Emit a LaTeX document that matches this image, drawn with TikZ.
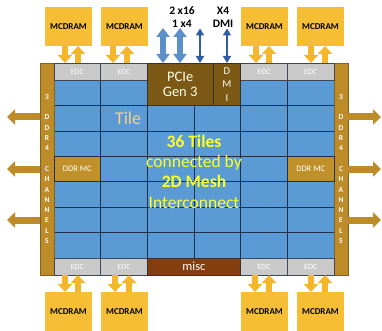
\documentclass[tikz,border=0pt]{standalone}
\usepackage{fontspec}
\setmainfont{Carlito}
\usetikzlibrary{arrows.meta}
\definecolor{mcd}{HTML}{F6BE34}
\definecolor{mcarr}{HTML}{F3B62C}
\definecolor{strip}{HTML}{BD8C28}
\definecolor{ddrmc}{HTML}{C0902A}
\definecolor{pcie}{HTML}{7D5916}
\definecolor{miscc}{HTML}{843D0F}
\definecolor{edc}{HTML}{C9C9C9}
\definecolor{tile}{HTML}{5B9BD5}
\definecolor{gridl}{HTML}{1F3048}
\definecolor{pblue}{HTML}{5B90C8}
\definecolor{dblue}{HTML}{2F5CA6}
\definecolor{tiletxt}{HTML}{F5D37F}
\definecolor{meshtxt}{HTML}{FFFF26}
\begin{document}
\begin{tikzpicture}[x=1pt,y=-1pt,
  box/.style={anchor=north west, inner sep=0pt, outer sep=0pt, align=center},
  edcbox/.style={box, fill=edc, draw=gridl!70!gray, line width=0.6pt, text=white,
     font=\fontsize{8}{9}\selectfont, minimum width=46.67pt, minimum height=17pt},
  mcbox/.style={box, fill=mcd, minimum width=47pt, minimum height=39pt,
     font=\bfseries\fontsize{9}{10}\selectfont},
  ddrbox/.style={box, fill=ddrmc, draw=gridl, line width=0.7pt, text=white,
     font=\fontsize{8.5}{10}\selectfont, minimum width=46.67pt, minimum height=25.43pt},
  stripbox/.style={box, fill=strip, draw=strip!70!black, line width=0.5pt, text=white,
     font=\bfseries\fontsize{7.5}{10.3}\selectfont, minimum width=14pt, minimum height=212pt},
  mcarrow/.style={draw=mcarr, line width=6pt, -{Triangle[length=8pt,width=14pt]}},
  ddrarrow/.style={draw=strip, line width=7pt, -{Triangle[length=8pt,width=15pt]}},
  pciearrow/.style={draw=pblue, line width=6pt, {Triangle[length=9pt,width=13pt]}-{Triangle[length=9pt,width=13pt]}},
  dmiarrow/.style={draw=dblue, line width=1.8pt, {Triangle[length=7pt,width=8pt]}-{Triangle[length=7pt,width=8pt]}},
  lbl/.style={font=\bfseries\fontsize{11.5}{12}\selectfont, inner sep=0pt}
]
\useasboundingbox (0,0) rectangle (382,331);

% tile grid
\fill[tile] (54,80) rectangle (334,258);
\foreach \x in {100.67,147.33,194,240.67,287.33}
  \draw[gridl, line width=0.7pt] (\x,80) -- (\x,258);
\foreach \y in {105.43,130.86,156.29,181.71,207.14,232.57}
  \draw[gridl, line width=0.7pt] (54,\y) -- (334,\y);
\draw[gridl, line width=0.7pt] (54,80) rectangle (334,258);

% side strips
\node[stripbox] (ls) at (40,63) {3\\~\\D\\D\\R\\4\\~\\C\\H\\A\\N\\N\\E\\L\\S};
\node[stripbox] (rs) at (334,63) {3\\~\\D\\D\\R\\4\\~\\C\\H\\A\\N\\N\\E\\L\\S};

% EDC row top
\node[edcbox] (et1) at (54,63) {EDC};
\node[edcbox] (et2) at (100.67,63) {EDC};
\node[edcbox] (et3) at (240.67,63) {EDC};
\node[edcbox] (et4) at (287.33,63) {EDC};
% EDC row bottom
\node[edcbox] (eb1) at (54,258) {EDC};
\node[edcbox] (eb2) at (100.67,258) {EDC};
\node[edcbox] (eb3) at (240.67,258) {EDC};
\node[edcbox] (eb4) at (287.33,258) {EDC};

% PCIe, DMI, misc
\node[box, fill=pcie, draw=black!80, line width=0.7pt, text=white!92!yellow,
  minimum width=65.67pt, minimum height=42.43pt, font=\fontsize{14.5}{15}\selectfont]
  (pcie) at (147.33,63) {PCIe\\Gen 3};
\node[box, fill=pcie, draw=black!80, line width=0.7pt, text=white!92!yellow,
  minimum width=27.67pt, minimum height=42.43pt, font=\fontsize{10.5}{13.5}\selectfont]
  (dmi) at (213,63) {D\\M\\I};
\node[box, fill=miscc, draw=black!80, line width=0.7pt, text=white,
  minimum width=93.33pt, minimum height=17pt, font=\fontsize{12.5}{13}\selectfont]
  (misc) at (147.33,258) {misc};

% DDR MC
\node[ddrbox] (mcl) at (54,156.29) {DDR MC};
\node[ddrbox] (mcr) at (287.33,156.29) {DDR MC};

% MCDRAM
\node[mcbox] (mt1) at (45,7) {MCDRAM};
\node[mcbox] (mt2) at (101,7) {MCDRAM};
\node[mcbox] (mt3) at (241,7) {MCDRAM};
\node[mcbox] (mt4) at (297,7) {MCDRAM};
\node[mcbox] (mb1) at (45,292) {MCDRAM};
\node[mcbox] (mb2) at (101,292) {MCDRAM};
\node[mcbox] (mb3) at (241,292) {MCDRAM};
\node[mcbox] (mb4) at (297,292) {MCDRAM};

% arrow x positions
\foreach \n/\v in {a/65,b/78,c/113,d/127,e/256,f/269,g/311,h/325,i/115,j/129,k/255}
  \coordinate (x\n) at (\v,0);

% MCDRAM <-> EDC arrows (top)
\draw[mcarrow] (mt1.south -| xa) -- (et1.north -| xa);
\draw[mcarrow] (et1.north -| xb) -- (mt1.south -| xb);
\draw[mcarrow] (mt2.south -| xc) -- (et2.north -| xc);
\draw[mcarrow] (et2.north -| xd) -- (mt2.south -| xd);
\draw[mcarrow] (mt3.south -| xe) -- (et3.north -| xe);
\draw[mcarrow] (et3.north -| xf) -- (mt3.south -| xf);
\draw[mcarrow] (mt4.south -| xg) -- (et4.north -| xg);
\draw[mcarrow] (et4.north -| xh) -- (mt4.south -| xh);
% bottom
\draw[mcarrow] (eb1.south -| xa) -- (mb1.north -| xa);
\draw[mcarrow] (mb1.north -| xb) -- (eb1.south -| xb);
\draw[mcarrow] (eb2.south -| xi) -- (mb2.north -| xi);
\draw[mcarrow] (mb2.north -| xj) -- (eb2.south -| xj);
\draw[mcarrow] (eb3.south -| xk) -- (mb3.north -| xk);
\draw[mcarrow] (mb3.north -| xf) -- (eb3.south -| xf);
\draw[mcarrow] (eb4.south -| xg) -- (mb4.north -| xg);
\draw[mcarrow] (mb4.north -| xh) -- (eb4.south -| xh);

% DDR channel arrows
\coordinate (la1) at (7,117);
\coordinate (la2) at (7,169);
\coordinate (la3) at (7,220);
\coordinate (ra1) at (381,117);
\coordinate (ra2) at (381,169);
\coordinate (ra3) at (381,220);
\draw[ddrarrow] (ls.west |- la1) -- (la1);
\draw[ddrarrow] (ls.west |- la2) -- (la2);
\draw[ddrarrow] (ls.west |- la3) -- (la3);
\draw[ddrarrow] (rs.east |- ra1) -- (ra1);
\draw[ddrarrow] (rs.east |- ra2) -- (ra2);
\draw[ddrarrow] (rs.east |- ra3) -- (ra3);

% PCIe / DMI arrows
\coordinate (p1) at (163,28);
\coordinate (p2) at (180,28);
\coordinate (p3) at (200,28.5);
\coordinate (p4) at (227,28.5);
\draw[pciearrow] (p1) -- (pcie.north -| p1);
\draw[pciearrow] (p2) -- (pcie.north -| p2);
\draw[dmiarrow] (p3) -- (pcie.north -| p3);
\draw[dmiarrow] (p4) -- (dmi.north -| p4);

% labels
\node[lbl] (l1) at (182,10.5) {2 x16};
\node[lbl] (l2) at (182,24) {1 x4};
\node[lbl] (l3) at (223,10.5) {X4};
\node[lbl] (l4) at (223,24) {DMI};

% tile texts
\node[text=tiletxt, font=\fontsize{18}{18}\selectfont] (tiletext) at (128,118) {Tile};
\node[text=meshtxt, align=center, font=\fontsize{17.5}{20.3}\selectfont]
  (mesh) at (194,171.5) {\textbf{36 Tiles}\\connected by\\\textbf{2D Mesh}\\Interconnect};
\end{tikzpicture}
\end{document}
